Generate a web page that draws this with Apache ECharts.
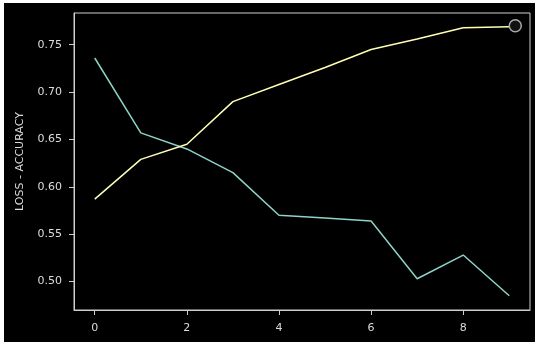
<!DOCTYPE html>
<html>
<head>
<meta charset="utf-8">
<script src="https://cdn.jsdelivr.net/npm/echarts@6/dist/echarts.min.js"></script>
<style>
  html, body { margin: 0; padding: 0; background: #ffffff; width: 535px; height: 343px; overflow: hidden; }
  #chart { position: absolute; left: 4px; top: 3px; width: 531px; height: 339px; background: #000; }
</style>
</head>
<body>
<div id="chart"></div>
<script>
const epochs = [0, 1, 2, 3, 4, 5, 6, 7, 8, 9];
const loss = [0.736, 0.657, 0.640, 0.615, 0.570, 0.567, 0.564, 0.503, 0.528, 0.485];
const accuracy = [0.587, 0.629, 0.645, 0.690, 0.708, 0.726, 0.745, 0.756, 0.768, 0.769];
const xTicks = [0, 2, 4, 6, 8];
const yTicks = [0.50, 0.55, 0.60, 0.65, 0.70, 0.75];

const chart = echarts.init(document.getElementById('chart'), null, { renderer: 'canvas' });
const textColor = '#dcdcdc';
const axisColor = '#cfcfcf';

const accData = epochs.map((e, i) => {
  const item = { value: [e, accuracy[i]] };
  if (i === epochs.length - 1) {
    item.symbol = 'circle';
    item.symbolSize = 12;
    item.symbolOffset = [6, -1];
    item.itemStyle = { color: '#111', borderColor: '#a8a8a8', borderWidth: 1.5 };
  }
  return item;
});

chart.setOption({
  backgroundColor: '#000',
  animation: false,
  grid: {
    left: 70, right: 5, top: 10, bottom: 32,
    show: true, borderColor: axisColor, borderWidth: 1
  },
  xAxis: {
    type: 'value', min: -0.45, max: 9.45,
    axisLine: { show: true, onZero: false, lineStyle: { color: axisColor, width: 1 } },
    splitLine: { show: false },
    axisTick: { show: true, length: 5, lineStyle: { color: axisColor, width: 1 }, customValues: xTicks },
    axisLabel: { color: textColor, fontSize: 11, fontFamily: 'DejaVu Sans', margin: 13, customValues: xTicks, formatter: v => String(v) }
  },
  yAxis: {
    type: 'value', min: 0.470, max: 0.7835,
    name: 'LOSS - ACCURACY', nameLocation: 'middle', nameGap: 48,
    nameTextStyle: { color: textColor, fontSize: 11, fontFamily: 'DejaVu Sans' },
    axisLine: { show: true, onZero: false, lineStyle: { color: axisColor, width: 1 } },
    splitLine: { show: false },
    axisTick: { show: true, length: 5, lineStyle: { color: axisColor, width: 1 }, customValues: yTicks },
    axisLabel: { color: textColor, fontSize: 11, fontFamily: 'DejaVu Sans', margin: 12, customValues: yTicks, formatter: v => v.toFixed(2) }
  },
  series: [
    {
      name: 'loss', type: 'line', showSymbol: false, symbol: 'none',
      lineStyle: { color: '#8dd3c7', width: 1.5 },
      data: epochs.map((e, i) => [e, loss[i]])
    },
    {
      name: 'accuracy', type: 'line', showSymbol: true, symbol: 'none',
      lineStyle: { color: '#feffb3', width: 1.5 },
      itemStyle: { color: '#feffb3' },
      data: accData
    }
  ]
});
</script>
</body>
</html>
